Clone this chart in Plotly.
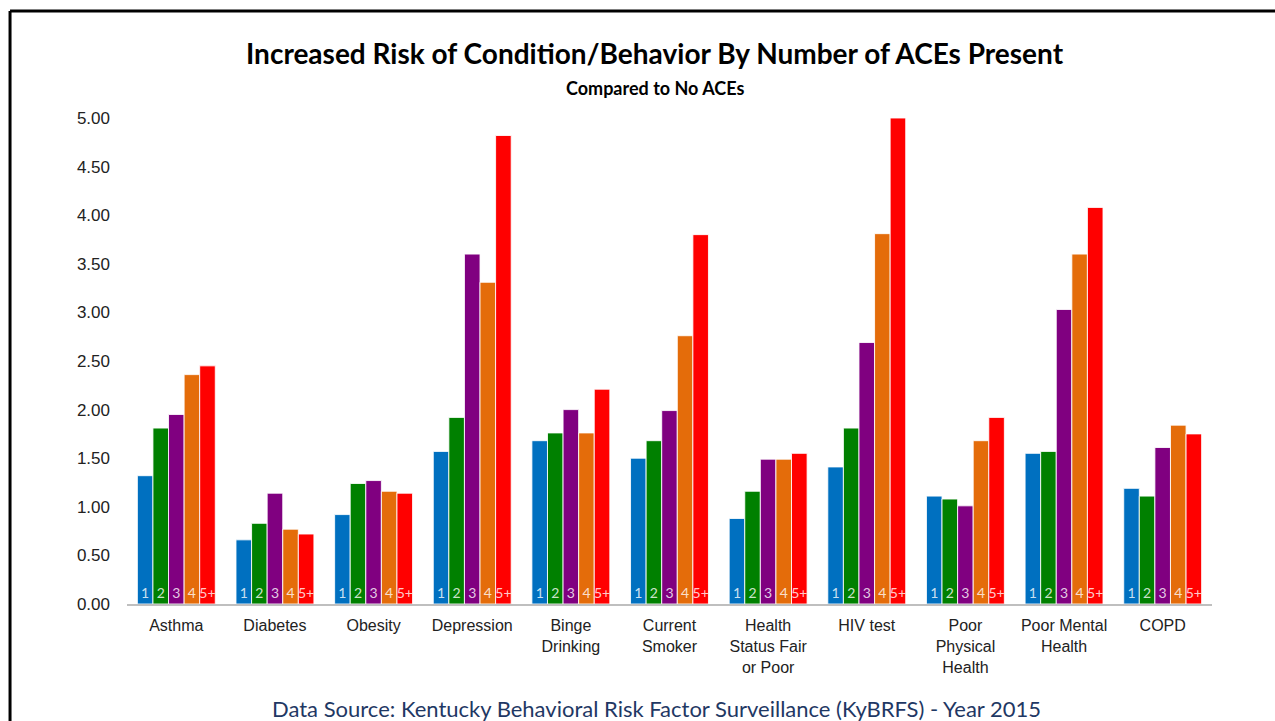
import plotly.graph_objects as go

categories = ["Asthma", "Diabetes", "Obesity", "Depression", "Binge<br>Drinking",
              "Current<br>Smoker", "Health<br>Status Fair<br>or Poor", "HIV test",
              "Poor<br>Physical<br>Health", "Poor Mental<br>Health", "COPD"]

ace_groups = ["1", "2", "3", "4", "5+"]

aces_1 = [1.32, 0.66, 0.92, 1.57, 1.68, 1.50, 0.88, 1.41, 1.11, 1.55, 1.19]
aces_2 = [1.81, 0.83, 1.24, 1.92, 1.76, 1.68, 1.16, 1.81, 1.08, 1.57, 1.11]
aces_3 = [1.95, 1.14, 1.27, 3.60, 2.00, 1.99, 1.49, 2.69, 1.01, 3.03, 1.61]
aces_4 = [2.36, 0.77, 1.16, 3.31, 1.76, 2.76, 1.49, 3.81, 1.68, 3.60, 1.84]
aces_5 = [2.45, 0.72, 1.14, 4.82, 2.21, 3.80, 1.55, 5.00, 1.92, 4.08, 1.75]

series = [aces_1, aces_2, aces_3, aces_4, aces_5]
colors = ["#0070C0", "#008000", "#800080", "#E46C0A", "#FF0000"]

y_ticks = [0, 0.5, 1.0, 1.5, 2.0, 2.5, 3.0, 3.5, 4.0, 4.5, 5.0]

fig = go.Figure()
for name, vals, col in zip(ace_groups, series, colors):
    fig.add_trace(go.Bar(
        x=categories, y=vals, name=name,
        marker=dict(color=col, line=dict(color="rgba(255,255,255,0.85)", width=1)),
        text=[name] * len(vals),
        textposition="inside",
        insidetextanchor="start",
        textangle=0,
        textfont=dict(family="Lato, Open Sans, sans-serif", size=14,
                      color="rgba(255,255,255,0.8)"),
        hoverinfo="x+y+name",
    ))

# outer frame
frame = dict(type="line", xref="paper", yref="paper",
             line=dict(color="black", width=3))
fig.add_shape(**frame, x0=-0.1078, x1=1.08, y0=1.2202, y1=1.2202)
fig.add_shape(**frame, x0=-0.1078, x1=-0.1078, y0=1.2202, y1=-0.26)

fig.add_annotation(text="<b>Increased Risk of Condition/Behavior By Number of ACEs Present</b>",
                   xref="paper", yref="paper", x=0.487, y=1.1337, yanchor="middle",
                   showarrow=False,
                   font=dict(family="Lato, Open Sans, sans-serif", size=28, color="black"))
fig.add_annotation(text="<b>Compared to No ACEs</b>",
                   xref="paper", yref="paper", x=0.487, y=1.0617, yanchor="middle",
                   showarrow=False,
                   font=dict(family="Lato, Open Sans, sans-serif", size=18, color="black"))
fig.add_annotation(text="Data Source: Kentucky Behavioral Risk Factor Surveillance (KyBRFS) - Year 2015",
                   xref="paper", yref="paper", x=0.488, y=-0.216, yanchor="middle",
                   showarrow=False,
                   font=dict(family="Lato, Open Sans, sans-serif", size=22, color="#1F3864"))

fig.update_layout(
    width=1275, height=721,
    margin=dict(l=127, r=63, t=118, b=117),
    paper_bgcolor="white", plot_bgcolor="white",
    barmode="group", bargap=0.21, bargroupgap=0.0,
    showlegend=False,
    uniformtext=dict(mode="show", minsize=14),
    font=dict(family="Liberation Sans, Arial, sans-serif"),
)
fig.update_xaxes(
    showgrid=False, showline=True, linecolor="#BFBFBF", linewidth=2,
    ticks="", ticklabelstandoff=6, tickfont=dict(size=16, color="#222222"),
)
fig.update_yaxes(
    range=[0, 5.0], tickvals=y_ticks, tickformat=".2f",
    showgrid=False, zeroline=False, showline=False,
    ticks="", ticklabelstandoff=16,
    tickfont=dict(size=17, color="#222222"),
)

fig.write_html("out.html")
